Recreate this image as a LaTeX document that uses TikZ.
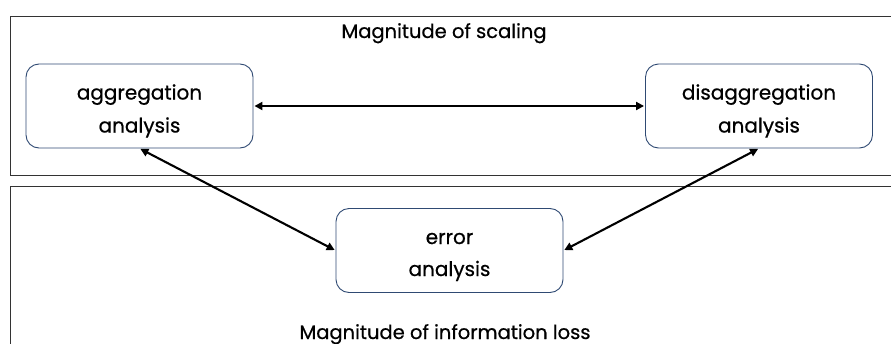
\documentclass[tikz,border=0pt]{standalone}
\usepackage{fontspec}
\setmainfont{Poppins}[FakeBold=0.6]
\usetikzlibrary{arrows.meta}
\definecolor{nodeblue}{HTML}{2F4A73}
\tikzset{
  region/.style={draw=black!80, line width=0.9pt},
  anbox/.style={draw=nodeblue, line width=0.9pt, rounded corners=13pt, minimum width=227pt, minimum height=84pt, inner sep=0pt},
  linetext/.style={font=\fontsize{20}{24}\selectfont, anchor=base, inner sep=0pt},
  link/.style={line width=2.1pt, {Triangle[length=8pt,width=8pt]}-{Triangle[length=8pt,width=8pt]}, shorten <=1pt, shorten >=1pt},
  caption/.style={font=\fontsize{19.5}{23}\selectfont, anchor=base, inner sep=0pt}
}
\begin{document}
\begin{tikzpicture}[x=1pt,y=-1pt]
\useasboundingbox (0,0) rectangle (891,343);
\clip (0,0) rectangle (891,343);
\draw[region] (10,16) rectangle (900,175);
\draw[region] (10,186) rectangle (900,370);
\node[caption] (top) at (444,38) {Magnitude of scaling};
\node[caption] (bot) at (445,339) {Magnitude of information loss};
\node[anbox] (agg) at (139.5,106) {};
\node[anbox] (dis) at (759,106) {};
\node[anbox] (err) at (449.5,250.5) {};
\node[linetext] (agg1) at ([yshift=6.5pt]agg.center) {aggregation};
\node[linetext] (agg2) at ([yshift=-26.5pt]agg.center) {analysis};
\node[linetext] (dis1) at ([yshift=6.5pt]dis.center) {disaggregation};
\node[linetext] (dis2) at ([yshift=-26.5pt]dis.center) {analysis};
\node[linetext] (err1) at ([yshift=6.5pt]err.center) {error};
\node[linetext] (err2) at ([yshift=-25.5pt]err.center) {analysis};
\draw[link] (agg.east) -- (dis.west);
\draw[link] (agg.south) -- (err.west);
\draw[link] (err.east) -- (dis.south);
\end{tikzpicture}
\end{document}
